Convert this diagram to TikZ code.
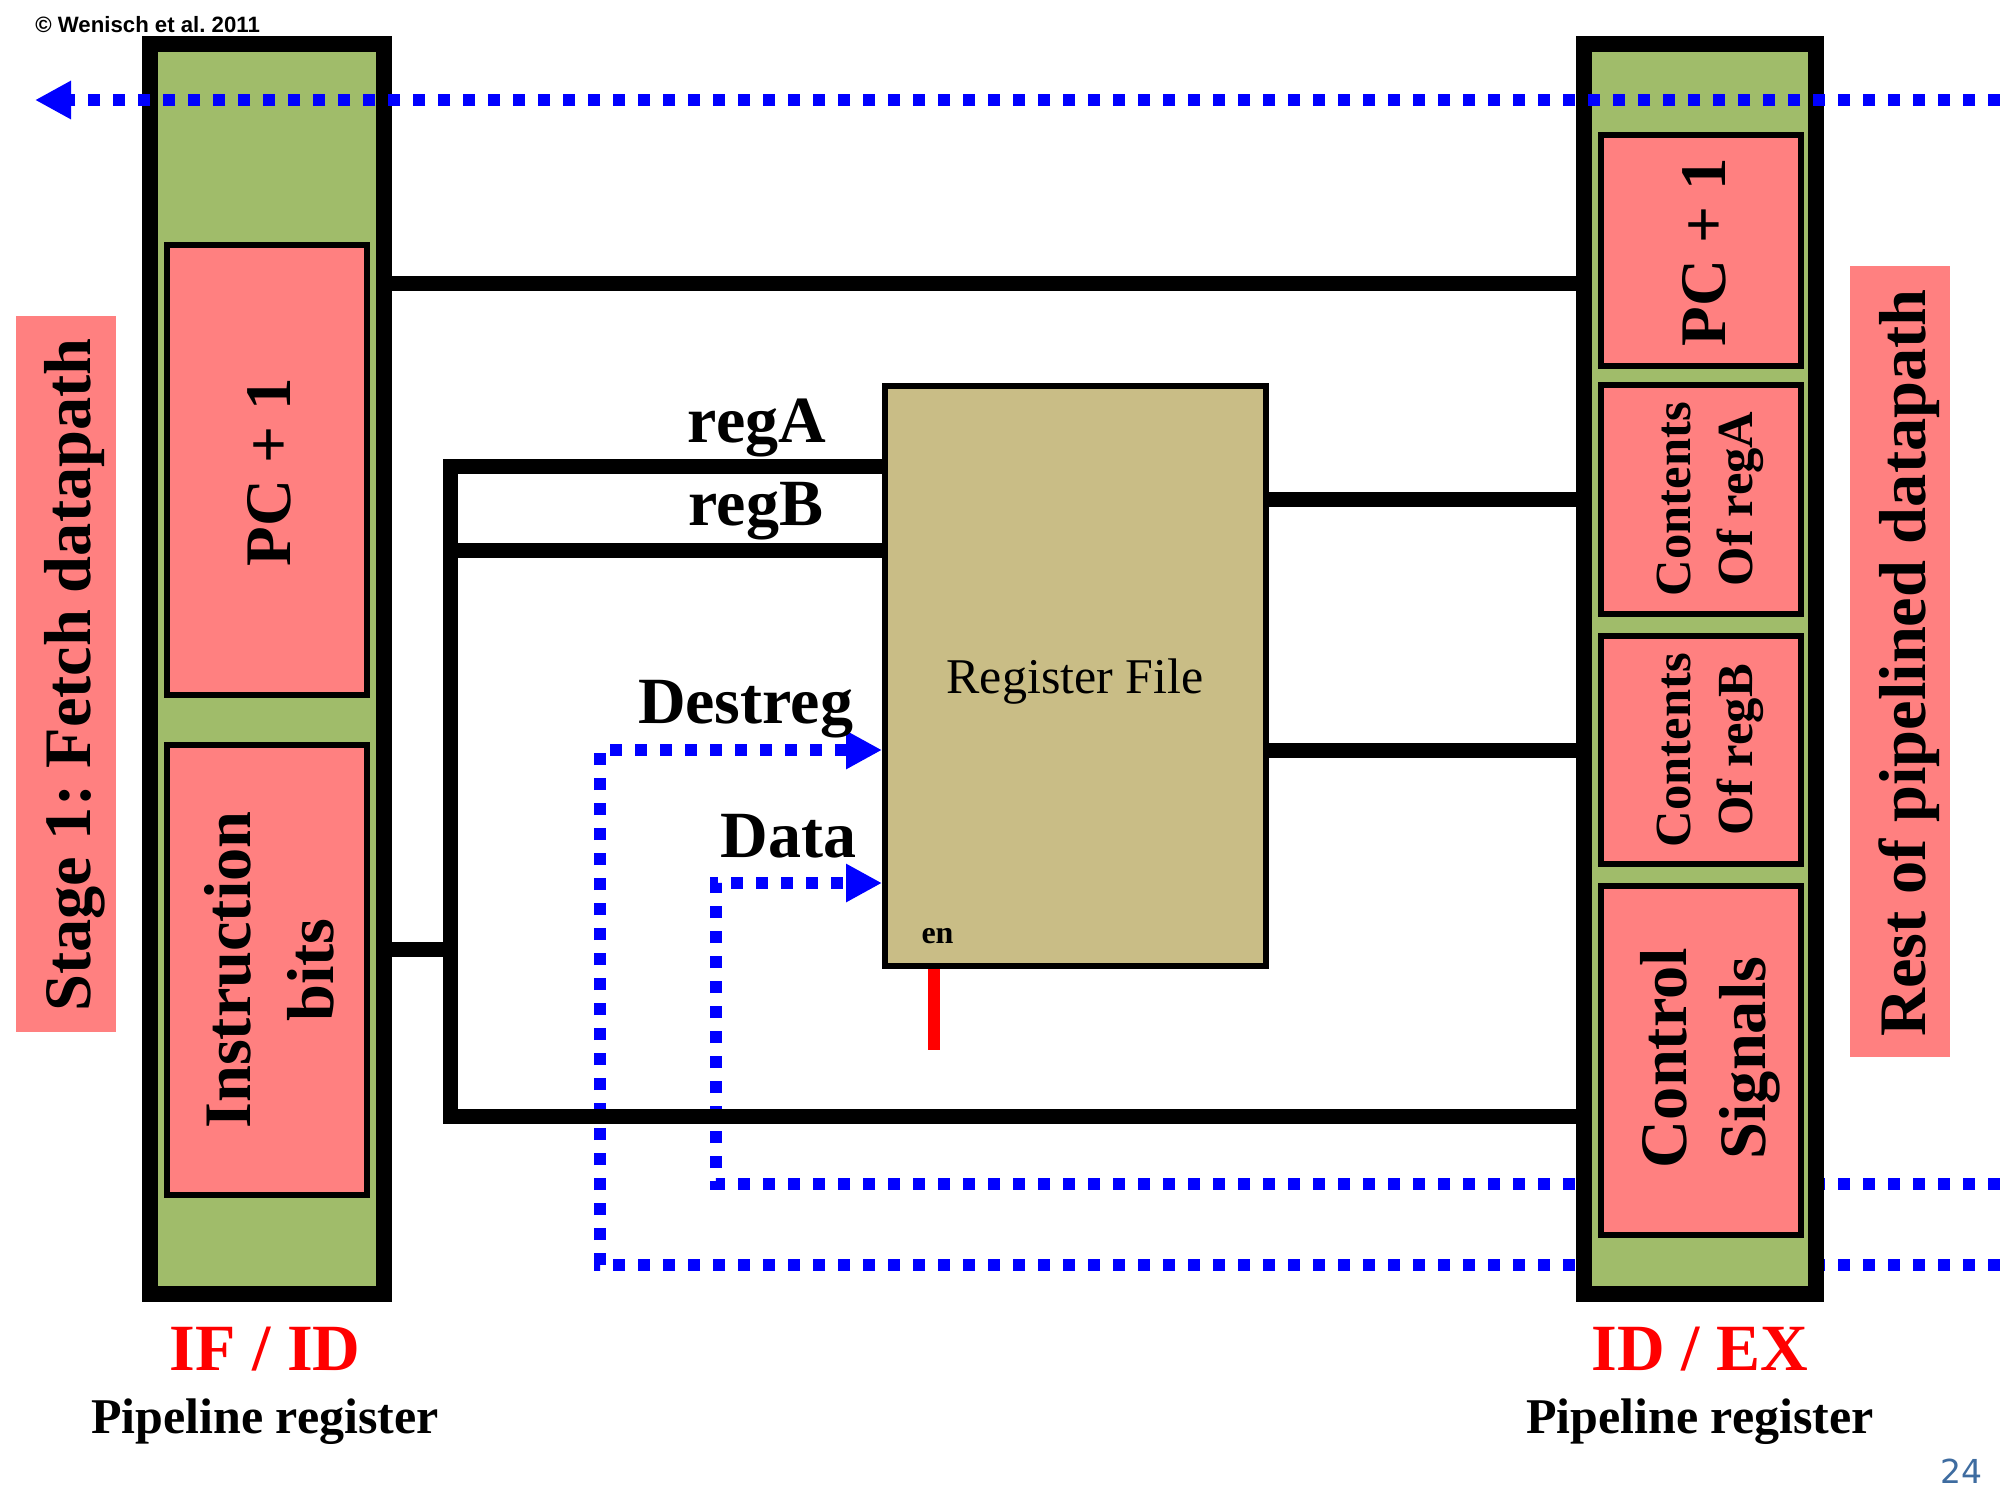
\documentclass[tikz,border=0pt]{standalone}
\usepackage{fontspec}
\setmainfont{Liberation Serif}
\newfontfamily\arialf{Liberation Sans}
\newfontfamily\dejavuf{DejaVu Sans}
\usetikzlibrary{arrows.meta,fit}
\frenchspacing
\definecolor{regGreen}{RGB}{160,188,106}
\definecolor{boxPink}{RGB}{255,128,128}
\definecolor{rfTan}{RGB}{201,189,134}
\definecolor{pgBlue}{RGB}{62,108,160}
\definecolor{dotBlue}{RGB}{0,0,255}
\definecolor{sigRed}{RGB}{255,0,0}
\begin{document}
\begin{tikzpicture}[x=0.5pt,y=-0.5pt,
  pipereg/.style={draw=black, line width=8pt, fill=regGreen, inner sep=0pt},
  field/.style={draw=black, line width=3pt, fill=boxPink, inner sep=0pt},
  labelbar/.style={fill=boxPink, inner sep=0pt},
  rfbox/.style={draw=black, line width=3pt, fill=rfTan, inner sep=0pt},
  bus/.style={line width=7.5pt, draw=black},
  dotline/.style={line width=6pt, draw=dotBlue, dash pattern=on 6pt off 6.5pt},
  tipA/.style={-{Triangle[length=18pt,width=18pt]}},
  txt/.style={inner sep=0pt, anchor=base},
  bigtxt/.style={txt, font=\fontsize{33}{36}\selectfont\bfseries},
  rottxt/.style={txt, rotate=90, font=\fontsize{33.2}{36}\selectfont\bfseries},
  pctxt/.style={txt, rotate=90, font=\fontsize{32.5}{36}\selectfont\bfseries},
  smallrot/.style={txt, rotate=90, font=\fontsize{25.3}{28}\selectfont\bfseries},
  regname/.style={txt, text=sigRed, font=\fontsize{33}{36}\selectfont\bfseries},
  regsub/.style={txt, font=\fontsize{25}{28}\selectfont\bfseries}
]
\useasboundingbox (0,0) rectangle (2000,1500);

% side label bars
\node[labelbar, fit={(16,316)(116,1032)}] (stagebar) {};
\node[labelbar, fit={(1850,266)(1950,1057)}] (restbar) {};

% register file
\node[rfbox, fit={(885,386)(1266,966)}] (rf) {};

% helper coordinates
\coordinate (yPC) at (0,283);
\coordinate (yA) at (0,466);
\coordinate (yB) at (0,550);
\coordinate (yI) at (0,949);
\coordinate (yBot) at (0,1116);
\coordinate (yOA) at (0,499);
\coordinate (yOB) at (0,750);
\coordinate (busx) at (450,0);

% write-back dotted paths (behind ID/EX)
\coordinate (dstR) at (2000,1265);
\coordinate (dstC) at (600,1265);
\coordinate (dstU) at (600,750);
\coordinate (datR) at (2000,1184);
\coordinate (datC) at (716,1184);
\coordinate (datU) at (716,883);
\draw[dotline,tipA] (dstR) -- (dstC) -- (dstU) -- (rf.west |- dstU);
\draw[dotline,tipA] (datR) -- (datC) -- (datU) -- (rf.west |- datU);

% pipeline registers
\node[pipereg, fit={(150,44)(384,1294)}] (ifid) {};
\node[pipereg, fit={(1584,44)(1816,1294)}] (idex) {};
\node[field, fit={(167,245)(367,695)}] (ifpc) {};
\node[field, fit={(167,745)(367,1195)}] (ifinst) {};
\node[field, fit={(1601,135)(1801,366)}] (idpc) {};
\node[field, fit={(1601,385)(1801,614)}] (idra) {};
\node[field, fit={(1601,636)(1801,864)}] (idrb) {};
\node[field, fit={(1601,886)(1801,1235)}] (idctl) {};

% solid wires
\draw[bus] (ifid.east |- yPC) -- (idex.west |- yPC);
\draw[bus] (rf.west |- yA) -- (busx |- yA) -- (busx |- yBot) -- (idex.west |- yBot);
\draw[bus] (rf.west |- yB) -- (busx |- yB);
\draw[bus] (ifid.east |- yI) -- (busx |- yI);
\draw[bus] (rf.east |- yOA) -- (idex.west |- yOA);
\draw[bus] (rf.east |- yOB) -- (idex.west |- yOB);

% enable
\coordinate (enB) at (934,1050);
\draw[sigRed, line width=6pt] (rf.south -| enB) -- (enB);

% top dotted feedback
\coordinate (topR) at (2000,100);
\coordinate (topL) at (35,100);
\draw[dotline,tipA] (topR) -- (topL);

% texts
\node[rottxt] (stagetxt) at (90,675) {Stage 1: Fetch datapath};
\node[rottxt] (resttxt) at (1925,663) {Rest of pipelined datapath};
\node[pctxt] (ifpctxt) at (290,472) {PC + 1};
\node[rottxt] (insttxt) at (250,970) {Instruction};
\node[rottxt] (bitstxt) at (333,970) {bits};
\node[pctxt] (idpctxt) at (1725,252) {PC + 1};
\node[smallrot] (ratxt1) at (1690,499) {Contents};
\node[smallrot] (ratxt2) at (1752,499) {Of regA};
\node[smallrot] (rbtxt1) at (1690,750) {Contents};
\node[smallrot] (rbtxt2) at (1752,750) {Of regB};
\node[rottxt] (ctltxt1) at (1686,1058) {Control};
\node[rottxt] (ctltxt2) at (1765,1058) {Signals};

\node[bigtxt] (regAtxt) at (757,442) {regA};
\node[bigtxt] (regBtxt) at (756,525) {regB};
\node[bigtxt] (desttxt) at (745.5,723) {Destreg};
\node[bigtxt] (datatxt) at (788.5,857) {Data};
\node[txt, font=\fontsize{25}{28}\selectfont] (rftxt) at (1075,693) {Register File};
\node[txt, font=\fontsize{16}{18}\selectfont\bfseries] (entxt) at (937.5,943) {en};

\node[regname] (ifidname) at (265,1370) {IF / ID};
\node[regsub] (ifidsub) at (265,1433) {Pipeline register};
\node[regname] (idexname) at (1700,1370) {ID / EX};
\node[regsub] (idexsub) at (1700,1433) {Pipeline register};

\node[inner sep=0pt, anchor=base west, font=\arialf\fontsize{11.1}{13}\selectfont\bfseries] (copy) at (35,32) {© Wenisch et al. 2011};
\node[inner sep=0pt, anchor=base east, text=pgBlue, font=\dejavuf\fontsize{16.5}{18}\selectfont] (pagenum) at (1983,1483) {24};
\end{tikzpicture}
\end{document}
